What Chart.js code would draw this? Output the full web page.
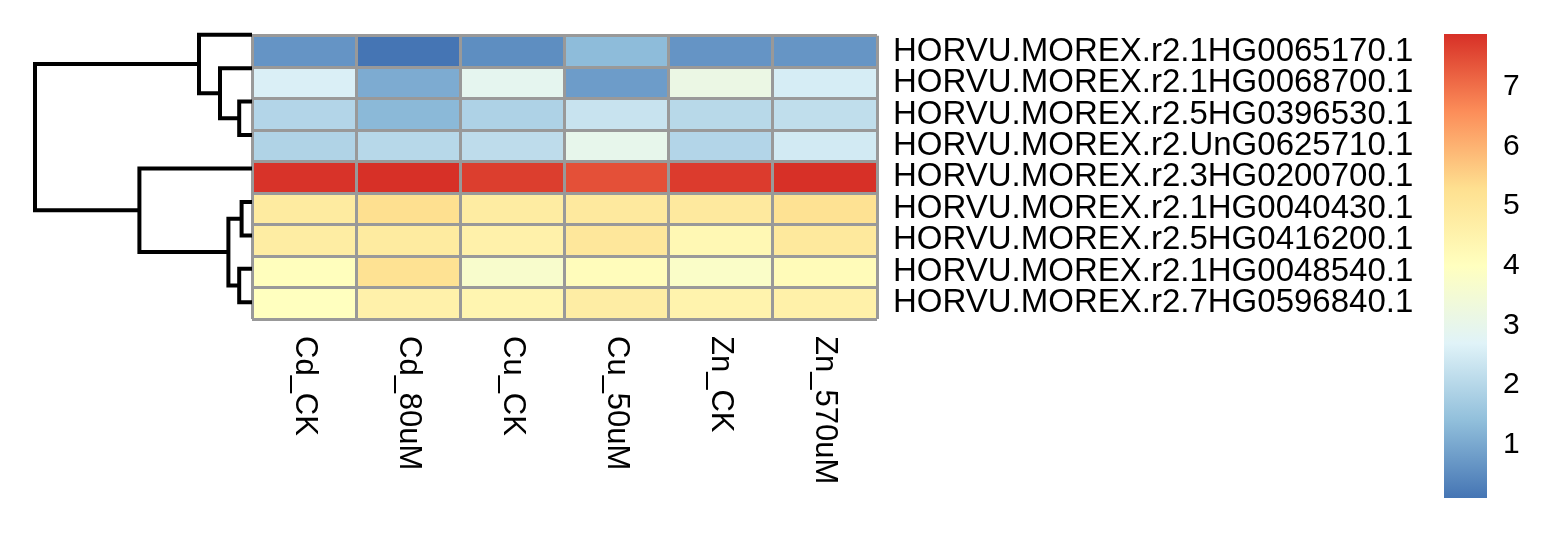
<!DOCTYPE html>
<html>
<head>
<meta charset="utf-8">
<title>Heatmap</title>
<script src="https://cdn.jsdelivr.net/npm/chart.js@4.4.1/dist/chart.umd.min.js"></script>
<style>
  html, body { margin: 0; padding: 0; background: #ffffff; }
  #wrap { position: relative; width: 1563px; height: 548px; overflow: hidden; }
  canvas { position: absolute; top: 0; }
  #heatmap { left: 0; }
  #dendro { left: 0; }
  #legend { left: 1440px; }
</style>
</head>
<body>
<div id="wrap">
  <canvas id="heatmap" width="1563" height="548"></canvas>
  <canvas id="dendro" width="260" height="548"></canvas>
  <canvas id="legend" width="123" height="548"></canvas>
</div>
<script>
// rows, top to bottom (clustered order)
const genes = [
  "HORVU.MOREX.r2.1HG0065170.1",
  "HORVU.MOREX.r2.1HG0068700.1",
  "HORVU.MOREX.r2.5HG0396530.1",
  "HORVU.MOREX.r2.UnG0625710.1",
  "HORVU.MOREX.r2.3HG0200700.1",
  "HORVU.MOREX.r2.1HG0040430.1",
  "HORVU.MOREX.r2.5HG0416200.1",
  "HORVU.MOREX.r2.1HG0048540.1",
  "HORVU.MOREX.r2.7HG0596840.1"
];
const samples = ["Cd_CK", "Cd_80uM", "Cu_CK", "Cu_50uM", "Zn_CK", "Zn_570uM"];

// one array per sample, values in gene order
const cdCK    = [0.65, 2.60, 1.96, 1.90, 7.85, 4.85, 4.76, 4.05, 4.00];
const cd80uM  = [0.10, 1.05, 1.30, 2.03, 7.89, 5.30, 4.85, 5.20, 4.57];
const cuCK    = [0.53, 2.90, 1.88, 2.13, 7.70, 4.79, 4.57, 3.70, 4.40];
const cu50uM  = [1.35, 0.79, 2.30, 3.00, 7.45, 4.90, 4.99, 4.10, 4.74];
const znCK    = [0.65, 3.15, 2.04, 1.96, 7.73, 4.90, 4.30, 3.80, 4.50];
const zn570uM = [0.67, 2.54, 2.17, 2.46, 7.89, 5.20, 4.93, 4.17, 4.60];
const sampleValues = [cdCK, cd80uM, cuCK, cu50uM, znCK, zn570uM];

// row dendrogram (hclust style: negative = leaf index, positive = earlier merge)
const rowMerges = [[-3, -4], [-2, 1], [-1, 2], [-6, -7], [-8, -9], [4, 5], [-5, 6], [3, 7]];
const rowHeights = [0.64, 1.60, 2.65, 0.52, 0.64, 1.18, 5.63, 10.85];

// colour scale
const paletteStops = ["#4575B4", "#91BFDB", "#E0F3F8", "#FFFFBF", "#FEE090", "#FC8D59", "#D73027"];
const scaleMin = 0.1;
const scaleMax = 7.89;
const legendTicks = [1, 2, 3, 4, 5, 6, 7];

Chart.defaults.font.family = '"Liberation Sans", Arial, Helvetica, sans-serif';
Chart.defaults.color = "#000000";

function hexToRgb(hex) {
  const n = parseInt(hex.slice(1), 16);
  return [(n >> 16) & 255, (n >> 8) & 255, n & 255];
}

function colorFor(v) {
  const t = Math.min(Math.max((v - scaleMin) / (scaleMax - scaleMin), 0), 1) * (paletteStops.length - 1);
  const i = Math.min(Math.floor(t), paletteStops.length - 2);
  const f = t - i;
  const a = hexToRgb(paletteStops[i]);
  const b = hexToRgb(paletteStops[i + 1]);
  const c = a.map((x, k) => Math.round(x + (b[k] - x) * f));
  return `rgb(${c[0]}, ${c[1]}, ${c[2]})`;
}

// ---- heatmap ----
const columnLabels = {
  id: "columnLabels",
  afterDraw(chart) {
    const { ctx, chartArea } = chart;
    const xs = chart.scales.x;
    ctx.save();
    ctx.font = '31px "Liberation Sans", Arial, sans-serif';
    ctx.fillStyle = "#000000";
    ctx.textAlign = "left";
    ctx.textBaseline = "middle";
    samples.forEach((label, i) => {
      ctx.save();
      ctx.translate(xs.getPixelForValue(i + 0.5), chartArea.bottom + 17);
      ctx.rotate(Math.PI / 2);
      ctx.fillText(label, 0, 0);
      ctx.restore();
    });
    ctx.restore();
  }
};

new Chart(document.getElementById("heatmap"), {
  type: "bar",
  data: {
    labels: genes,
    datasets: sampleValues.map((values, i) => ({
      label: samples[i],
      data: values.map(() => 1),
      backgroundColor: values.map(colorFor),
      borderWidth: 0,
      barPercentage: 1,
      categoryPercentage: 1
    }))
  },
  options: {
    indexAxis: "y",
    responsive: false,
    animation: false,
    layout: { padding: { left: 252, top: 18, right: 0, bottom: 0 } },
    plugins: { legend: { display: false }, tooltip: { enabled: false } },
    scales: {
      x: {
        type: "linear",
        stacked: true,
        min: 0,
        max: samples.length,
        ticks: { display: false, stepSize: 1 },
        grid: { color: "#999999", lineWidth: 3, drawTicks: false, z: 1 },
        border: { display: false },
        afterFit: (scale) => { scale.height = 229; }
      },
      y: {
        position: "right",
        stacked: true,
        ticks: { font: { size: 33 }, color: "#000000", padding: 16, autoSkip: false },
        grid: { color: "#999999", lineWidth: 3, drawTicks: false, z: 1 },
        border: { display: false },
        afterFit: (scale) => { scale.width = 686; }
      }
    }
  },
  plugins: [columnLabels]
});

// ---- row dendrogram ----
function dendroSegments() {
  const nodes = [];
  const segs = [];
  const pos = (ref) => (ref < 0 ? { y: -ref - 0.5, h: 0 } : nodes[ref - 1]);
  rowMerges.forEach(([a, b], i) => {
    const l = pos(a);
    const r = pos(b);
    const h = rowHeights[i];
    segs.push([
      { x: l.h, y: l.y },
      { x: h, y: l.y },
      { x: h, y: r.y },
      { x: r.h, y: r.y }
    ]);
    nodes.push({ y: (l.y + r.y) / 2, h });
  });
  return segs;
}

new Chart(document.getElementById("dendro"), {
  type: "scatter",
  data: {
    datasets: dendroSegments().map((pts) => ({
      data: pts,
      showLine: true,
      borderColor: "#000000",
      borderWidth: 4,
      pointRadius: 0,
      tension: 0,
      clip: false
    }))
  },
  options: {
    responsive: false,
    animation: false,
    layout: { padding: { left: 35, right: 8, top: 18, bottom: 229 } },
    plugins: { legend: { display: false }, tooltip: { enabled: false } },
    scales: {
      x: { type: "linear", min: 0, max: rowHeights[rowHeights.length - 1], reverse: true, display: false },
      y: { type: "linear", min: 0, max: genes.length, reverse: true, display: false }
    }
  }
});

// ---- colour key ----
new Chart(document.getElementById("legend"), {
  type: "bar",
  data: {
    labels: [""],
    datasets: [{
      data: [[scaleMin, scaleMax]],
      borderWidth: 0,
      barPercentage: 1,
      categoryPercentage: 1,
      backgroundColor: (c) => {
        const { chart } = c;
        const ys = chart.scales.y;
        if (!chart.chartArea || !ys) return paletteStops[0];
        const g = chart.ctx.createLinearGradient(0, ys.getPixelForValue(scaleMin), 0, ys.getPixelForValue(scaleMax));
        paletteStops.forEach((col, i) => g.addColorStop(i / (paletteStops.length - 1), col));
        return g;
      }
    }]
  },
  options: {
    responsive: false,
    animation: false,
    layout: { padding: { left: 4, right: 0, top: 17, bottom: 50 } },
    plugins: { legend: { display: false }, tooltip: { enabled: false } },
    scales: {
      x: { display: false },
      y: {
        position: "right",
        min: scaleMin,
        max: scaleMax,
        afterBuildTicks: (scale) => { scale.ticks = legendTicks.map((v) => ({ value: v })); },
        ticks: { font: { size: 30 }, color: "#000000", padding: 16 },
        grid: { display: false, drawTicks: false },
        border: { display: false },
        afterFit: (scale) => { scale.width = 76; }
      }
    }
  }
});
</script>
</body>
</html>
